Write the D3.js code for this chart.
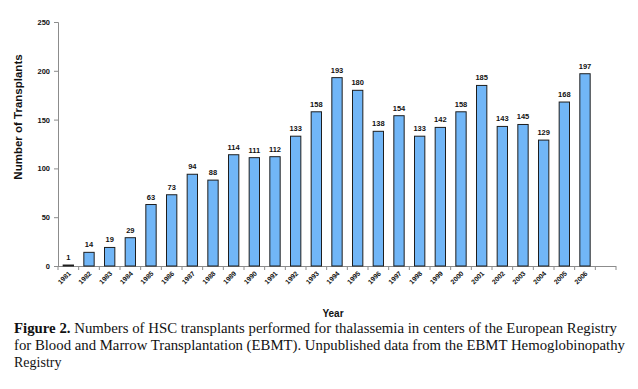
<!DOCTYPE html>
<html>
<head>
<meta charset="utf-8">
<script src="https://cdn.jsdelivr.net/npm/d3@7"></script>
<style>
  body { margin: 0; background: #fff; }
  svg { display: block; }
</style>
</head>
<body>
<svg id="chart" width="638" height="389"></svg>
<script>
let years = ["1981","1982","1983","1984","1985","1986","1987","1988","1989","1990","1991","1992","1993",
             "1994","1995","1996","1997","1998","1999","2000","2001","2002","2003","2004","2005","2006"];
let transplants = [1,14,19,29,63,73,94,88,114,111,112,133,158,193,180,138,154,133,142,158,185,143,145,129,168,197];
let yTicks = [0,50,100,150,200,250];
let captionLines = [
  "Numbers of HSC transplants performed for thalassemia in centers of the European Registry",
  "for Blood and Marrow Transplantation (EBMT). Unpublished data from the EBMT Hemoglobinopathy",
  "Registry"
];

let svg = d3.select('#chart');

// excel leaves an empty slot after the last year
let x = d3.scaleBand()
    .domain(years.concat(["_"]))
    .range([58, 616])
    .paddingInner(0.5)
    .paddingOuter(0.25);
let y = d3.scaleLinear().domain([0, 250]).range([266, 22]);

// y axis
let yAxis = svg.append('g')
    .attr('transform', 'translate(58,0)')
    .call(d3.axisLeft(y).tickValues(yTicks).tickSize(4).tickPadding(4));
yAxis.select('.domain').attr('stroke', '#8c8c8c');
yAxis.selectAll('.tick line').attr('stroke', '#8c8c8c');
yAxis.selectAll('.tick text')
    .attr('font-family', 'Liberation Sans, Arial, sans-serif')
    .attr('font-weight', 'bold')
    .attr('font-size', 7.5)
    .attr('fill', '#111');

// x axis (ticks at band edges)
let bw = x.step();
let xg = svg.append('g');
xg.append('line')
    .attr('x1', 58).attr('x2', 616)
    .attr('y1', 266.5).attr('y2', 266.5)
    .attr('stroke', '#8c8c8c');
xg.selectAll('line.tk')
    .data(d3.range(years.length + 2))
    .enter()
    .append('line')
    .attr('class', 'tk')
    .attr('x1', (i) => 58 + i * bw)
    .attr('x2', (i) => 58 + i * bw)
    .attr('y1', 266).attr('y2', 270)
    .attr('stroke', '#8c8c8c');

xg.selectAll('text')
    .data(years)
    .enter()
    .append('text')
    .attr('transform', (d) => {
        let cx = x(d) + x.bandwidth() / 2 + 3;
        return 'translate(' + cx + ',274) rotate(-45)';
    })
    .attr('text-anchor', 'end')
    .attr('font-family', 'Liberation Sans, Arial, sans-serif')
    .attr('font-weight', 'bold')
    .attr('font-size', 6.8)
    .attr('fill', '#111')
    .text((d) => d);

// bars
svg.selectAll('rect.bar')
    .data(years)
    .enter()
    .append('rect')
    .attr('class', 'bar')
    .attr('x', (d) => x(d))
    .attr('width', x.bandwidth())
    .attr('y', (d, i) => y(transplants[i]))
    .attr('height', (d, i) => 266 - y(transplants[i]))
    .attr('fill', '#71b6f7')
    .attr('stroke', '#1e1e1e')
    .attr('stroke-width', 1);

// value labels
svg.selectAll('text.val')
    .data(years)
    .enter()
    .append('text')
    .attr('class', 'val')
    .attr('x', (d) => x(d) + x.bandwidth() / 2)
    .attr('y', (d, i) => y(transplants[i]) - 5)
    .attr('text-anchor', 'middle')
    .attr('font-family', 'Liberation Sans, Arial, sans-serif')
    .attr('font-weight', 'bold')
    .attr('font-size', 7.5)
    .attr('fill', '#111')
    .text((d, i) => transplants[i]);

// axis titles
svg.append('text')
    .attr('transform', 'translate(22,117) rotate(-90)')
    .attr('text-anchor', 'middle')
    .attr('font-family', 'Liberation Sans, Arial, sans-serif')
    .attr('font-weight', 'bold')
    .attr('font-size', 11.5)
    .attr('fill', '#111')
    .text('Number of Transplants');

svg.append('text')
    .attr('x', 333)
    .attr('y', 317)
    .attr('text-anchor', 'middle')
    .attr('font-family', 'Liberation Sans, Arial, sans-serif')
    .attr('font-weight', 'bold')
    .attr('font-size', 10)
    .attr('fill', '#111')
    .text('Year');

// caption
let cap = svg.append('g')
    .attr('font-family', 'Liberation Serif, Times New Roman, serif')
    .attr('font-size', 14)
    .attr('fill', '#111');
let l1 = cap.append('text').attr('x', 14).attr('y', 333)
    .attr('textLength', 603).attr('lengthAdjust', 'spacingAndGlyphs');
l1.append('tspan').attr('font-weight', 'bold').text('Figure 2.');
l1.append('tspan').text(' ' + captionLines[0]);
cap.append('text').attr('x', 14).attr('y', 350)
    .attr('textLength', 611).attr('lengthAdjust', 'spacingAndGlyphs')
    .text(captionLines[1]);
cap.append('text').attr('x', 14).attr('y', 367).text(captionLines[2]);
</script>
</body>
</html>
